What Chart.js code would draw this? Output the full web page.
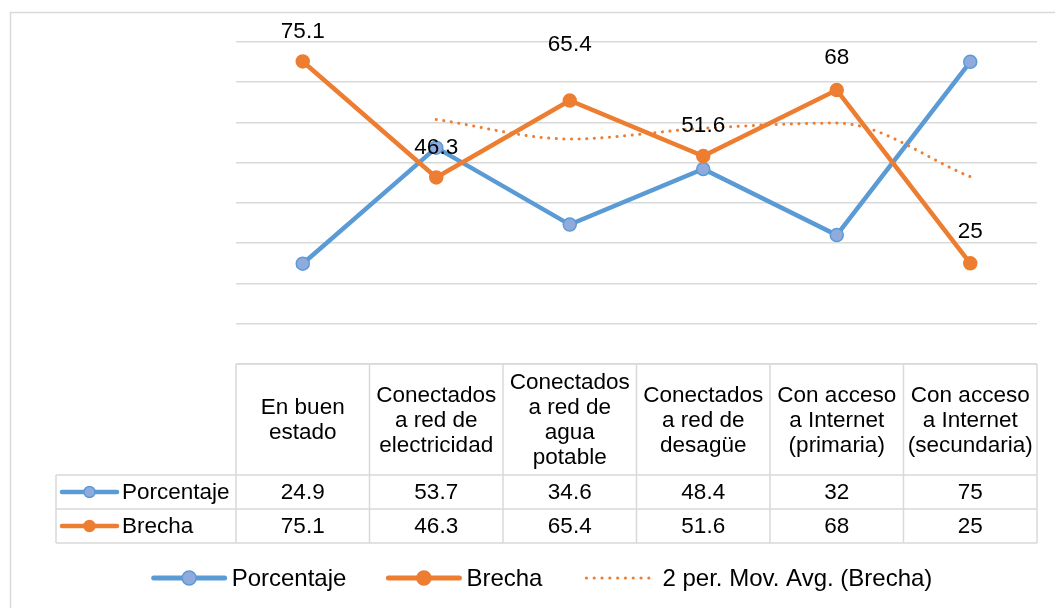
<!DOCTYPE html>
<html><head><meta charset="utf-8">
<script src="https://cdn.jsdelivr.net/npm/chart.js@4/dist/chart.umd.min.js"></script>
<style>html,body{margin:0;padding:0;background:#fff}#wrap{position:relative;width:1055px;height:608px}</style>
</head><body><div id="wrap"><canvas id="c" width="1055" height="608"></canvas></div>
<script>
// ---- data ----
const categories = [
  ["En buen","estado"],
  ["Conectados","a red de","electricidad"],
  ["Conectados","a red de","agua","potable"],
  ["Conectados","a red de","desagüe"],
  ["Con acceso","a Internet","(primaria)"],
  ["Con acceso","a Internet","(secundaria)"]
];
const porcentaje = [24.9, 53.7, 34.6, 48.4, 32, 75];
const brecha = [75.1, 46.3, 65.4, 51.6, 68, 25];
const movAvgBrecha = [null, 60.7, 55.85, 58.5, 59.8, 46.5];
const seriesNames = ["Porcentaje", "Brecha", "2 per. Mov. Avg. (Brecha)"];
const yTicks = [0, 10, 20, 30, 40, 50, 60, 70, 80];

// ---- style ----
const BLUE = '#5B9BD5', BLUE_FILL = '#8FAADC', ORANGE = '#ED7D31', GRID = '#D9D9D9';
const FONT = '"Liberation Sans", Arial, sans-serif';
const labelOffsets = [-30, -30, -56, -30, -32, -31];

function drawMarkerLine(ctx, x0, x1, y, color, fill, lw, r) {
  ctx.save();
  ctx.strokeStyle = color; ctx.lineWidth = lw; ctx.lineCap = 'round';
  ctx.beginPath(); ctx.moveTo(x0, y); ctx.lineTo(x1, y); ctx.stroke();
  ctx.beginPath(); ctx.arc((x0 + x1) / 2, y, r, 0, Math.PI * 2);
  ctx.fillStyle = fill; ctx.fill();
  ctx.lineWidth = 1.5; ctx.strokeStyle = color; ctx.stroke();
  ctx.restore();
}
function drawDotLine(ctx, x0, x1, y, color) {
  ctx.save();
  ctx.fillStyle = color;
  for (let x = x0 + 2; x <= x1; x += 7.8) {
    ctx.beginPath(); ctx.arc(x, y, 1.6, 0, Math.PI * 2); ctx.fill();
  }
  ctx.restore();
}

const framePlugin = {
  id: 'frame',
  beforeDraw(chart) {
    const ctx = chart.ctx;
    ctx.save();
    ctx.fillStyle = '#fff'; ctx.fillRect(0, 0, chart.width, chart.height);
    ctx.strokeStyle = GRID; ctx.lineWidth = 1.5;
    ctx.strokeRect(10.5, 12.5, 1200, 800);
    ctx.restore();
  }
};

const labelsPlugin = {
  id: 'brechaLabels',
  afterDatasetsDraw(chart) {
    const ctx = chart.ctx;
    const meta = chart.getDatasetMeta(1);
    ctx.save();
    ctx.font = '22.5px ' + FONT; ctx.fillStyle = '#000';
    ctx.textAlign = 'center'; ctx.textBaseline = 'middle';
    meta.data.forEach((pt, i) => {
      ctx.fillText(String(brecha[i]), pt.x, pt.y + labelOffsets[i]);
    });
    ctx.restore();
  }
};

const tablePlugin = {
  id: 'dataTable',
  afterDraw(chart) {
    const ctx = chart.ctx;
    const xs = chart.scales.x, ys = chart.scales.y;
    const n = categories.length;
    const step = (chart.chartArea.right - chart.chartArea.left) / n;
    const top = ys.getPixelForValue(0);
    const hdrBottom = top + 111;
    const rowH = 34;
    const r1 = hdrBottom + rowH, r2 = r1 + rowH;
    const leftX = 56;
    const colL = xs.getPixelForValue(0) - step / 2;
    const colR = xs.getPixelForValue(n - 1) + step / 2;
    ctx.save();
    ctx.strokeStyle = GRID; ctx.lineWidth = 1.5;
    ctx.beginPath();
    ctx.moveTo(colL, top); ctx.lineTo(colR, top);
    ctx.moveTo(leftX, hdrBottom); ctx.lineTo(colR, hdrBottom);
    ctx.moveTo(leftX, r1); ctx.lineTo(colR, r1);
    ctx.moveTo(leftX, r2); ctx.lineTo(colR, r2);
    for (let i = 0; i <= n; i++) {
      const x = colL + i * step;
      ctx.moveTo(x, top); ctx.lineTo(x, r2);
    }
    ctx.moveTo(leftX, hdrBottom); ctx.lineTo(leftX, r2);
    ctx.stroke();

    ctx.fillStyle = '#000';
    ctx.font = '22.5px ' + FONT;
    ctx.textAlign = 'center'; ctx.textBaseline = 'middle';
    const lh = 25;
    categories.forEach((lines, i) => {
      const cx = xs.getPixelForValue(i);
      const cy = (top + hdrBottom) / 2 + 1;
      const y0 = cy - (lines.length - 1) * lh / 2;
      lines.forEach((t, k) => ctx.fillText(t, cx, y0 + k * lh));
    });
    const rowsVals = [porcentaje, brecha];
    const rowC = [(hdrBottom + r1) / 2 + 1, (r1 + r2) / 2 + 1];
    rowsVals.forEach((vals, r) => {
      vals.forEach((v, i) => ctx.fillText(String(v), xs.getPixelForValue(i), rowC[r]));
    });
    drawMarkerLine(ctx, 62, 117, rowC[0] - 1, BLUE, BLUE_FILL, 4.5, 5.5);
    drawMarkerLine(ctx, 62, 117, rowC[1] - 1, ORANGE, ORANGE, 4.5, 5.5);
    ctx.textAlign = 'left';
    ctx.fillText(seriesNames[0], 122, rowC[0]);
    ctx.fillText(seriesNames[1], 122, rowC[1]);

    // bottom legend
    ctx.font = '24px ' + FONT;
    const iconW = 71, gapT = 7, gapI = 42;
    const widths = seriesNames.map(s => ctx.measureText(s).width);
    const total = widths.reduce((a, b) => a + b, 0) + 3 * (iconW + gapT) + 2 * gapI;
    let x = 543 - total / 2;
    const ly = 578;
    seriesNames.forEach((s, i) => {
      if (i === 0) drawMarkerLine(ctx, x, x + iconW, ly, BLUE, BLUE_FILL, 5, 7);
      else if (i === 1) drawMarkerLine(ctx, x, x + iconW, ly, ORANGE, ORANGE, 5, 7);
      else drawDotLine(ctx, x, x + iconW, ly, ORANGE);
      ctx.fillText(s, x + iconW + gapT, ly + 1);
      x += iconW + gapT + widths[i] + gapI;
    });
    ctx.restore();
  }
};

new Chart(document.getElementById('c'), {
  type: 'line',
  data: {
    labels: categories,
    datasets: [
      {
        label: seriesNames[0], data: porcentaje, order: 3,
        borderColor: BLUE, borderWidth: 4.5, tension: 0,
        pointRadius: 6.5, pointBackgroundColor: BLUE_FILL, pointBorderColor: BLUE, pointBorderWidth: 1.5
      },
      {
        label: seriesNames[1], data: brecha, order: 2,
        borderColor: ORANGE, borderWidth: 4.5, tension: 0,
        pointRadius: 6.5, pointBackgroundColor: ORANGE, pointBorderColor: ORANGE, pointBorderWidth: 1.5
      },
      {
        label: seriesNames[2], data: movAvgBrecha, order: 1,
        borderColor: ORANGE, borderWidth: 3, borderDash: [0.1, 7.5], borderCapStyle: 'round',
        cubicInterpolationMode: 'monotone', pointRadius: 0, spanGaps: false
      }
    ]
  },
  options: {
    responsive: false, animation: false, devicePixelRatio: 1,
    layout: { padding: { left: 236, right: 18, top: 41.7, bottom: 244 } },
    plugins: { legend: { display: false }, tooltip: { enabled: false } },
    scales: {
      x: { type: 'category', display: false, offset: true },
      y: {
        min: yTicks[0], max: yTicks[yTicks.length - 1],
        afterBuildTicks: (s) => { s.ticks = yTicks.map(v => ({ value: v })); },
        ticks: { display: false },
        grid: { color: GRID, lineWidth: 1.5, drawTicks: false },
        border: { display: false }
      }
    }
  },
  plugins: [framePlugin, labelsPlugin, tablePlugin]
});
</script>
</body></html>
